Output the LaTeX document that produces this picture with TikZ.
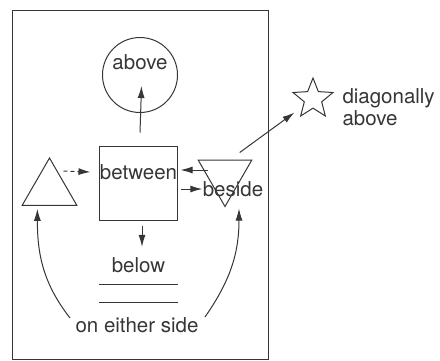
\documentclass[tikz,border=0pt]{standalone}
\usepackage{fontspec}
\setmainfont{TeX Gyre Heros}
\usetikzlibrary{shapes.geometric,arrows.meta}
\definecolor{ink}{HTML}{363636}

\begin{document}
\begin{tikzpicture}[x=1pt, y=-1pt, line width=1pt, color=ink,
        font=\fontsize{20.5}{21.5}\selectfont, every node/.style={inner sep=0pt},
        arr/.style={-{Latex[length=12pt,width=7pt]}},
        tri/.style={draw, regular polygon, regular polygon sides=3, minimum size=63pt}]
        \useasboundingbox (0,0) rectangle (440,360);
        \draw[line width=0.7pt] (12,10) rectangle (268,359);

        \node[draw, circle, minimum size=75pt] (circ) at (140,75) {};
        \node (above) at (140,62) {above};
        \node[draw, minimum width=78pt, minimum height=74pt] (box) at (138.5,183) {};
        \node (between) at (138.5,172) {between};
        \node[tri] (ltri) at (49.5,189.5) {};
        \node[tri, minimum size=62pt, shape border rotate=180] (rtri) at (225,175.5) {};
        \node (beside) at (233,189) {beside};
        \node[draw, star, star points=5, star point ratio=2.3, minimum size=42pt] (star) at (313,99) {};
        \node[align=left, anchor=west] (diag) at (342,107) {diagonally\\above};
        \node (below) at (138.5,265) {below};
        \node (side) at (137,325) {on either side};

        \draw[line width=0.7pt] (99,284) -- (178,284);
        \draw[line width=0.7pt] (99,302) -- (178,302);

        \draw[arr] ([xshift=1.5pt,yshift=13pt]box.north) -- ([xshift=1.5pt,yshift=27pt]circ.south);
        \draw[arr] ([xshift=3.5pt,yshift=-5pt]box.south) -- ([xshift=3.5pt,yshift=10pt]below.north);
        \draw[arr, dash pattern=on 4pt off 3pt] ([xshift=14pt,yshift=-14pt]ltri.corner 1) -- ([xshift=-9pt]between.west);
        \draw[arr] ([xshift=30pt,yshift=2pt]between.east) -- ([xshift=3pt,yshift=2pt]between.east);
        \draw[arr, shorten <=3pt] (box.east |- beside.west) -- (beside.west);
        \draw[arr, shorten >=23pt] ([xshift=-13pt,yshift=7pt]rtri.corner 2) -- (star.center);
        \draw[arr] ([xshift=-5pt,yshift=7pt]side.west) to[out=128, in=-90] ([xshift=16pt,yshift=-3pt]ltri.corner 2);
        \draw[arr] ([xshift=6pt,yshift=8pt]side.east) to[out=55, in=-90] ([xshift=14pt,yshift=-1pt]rtri.corner 1);
\end{tikzpicture}
\end{document}
